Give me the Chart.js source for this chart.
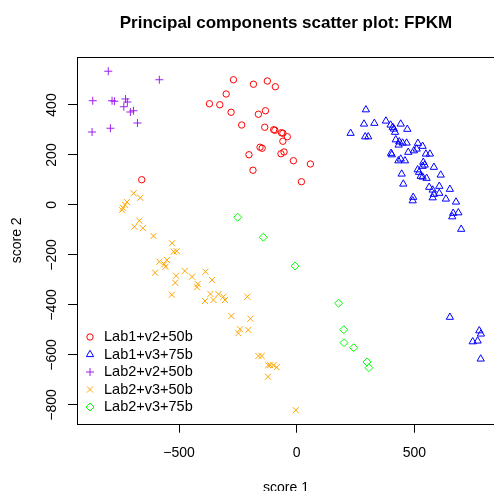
<!DOCTYPE html>
<html>
<head>
<meta charset="utf-8">
<script src="https://cdn.jsdelivr.net/npm/chart.js@4/dist/chart.umd.min.js"></script>
<style>
  html, body { margin: 0; padding: 0; background: #fff; overflow: hidden; }
  canvas { display: block; }
</style>
</head>
<body>
<canvas id="pca" width="494" height="491"></canvas>
<script>
// Dados (score 1, score 2)
const titleText = 'Principal components scatter plot: FPKM';
const xLabel = 'score 1';
const yLabel = 'score 2';
const xTicks = [-500, 0, 500];
const yTicks = [-800, -600, -400, -200, 0, 200, 400];

const groupNames = ['Lab1+v2+50b', 'Lab1+v3+75b', 'Lab2+v2+50b', 'Lab2+v3+50b', 'Lab2+v3+75b'];
const groupColors = ['#FF0000', '#0000FF', '#A020F0', '#FFA500', '#00FF00'];
const groupShapes = ['circle', 'triangle', 'cross', 'crossRot', 'rectRot'];
const groupRadius = [3.2, 4.2, 4, 4.3, 4];

const lab1v2x = [-269, -184, -125, -91, -300, -371, -327, -279, -163, -133, -234, -136, -98, -93,
  -65, -59, -40, -59, -156, -147, -203, -67, -54, -14, 58, -186, 20, -659];
const lab1v2y = [501, 483, 496, 473, 444, 405, 401, 371, 363, 377, 320, 311, 301, 299,
  289, 287, 273, 255, 231, 227, 201, 205, 212, 177, 164, 139, 93, 101];

const lab1v3x = [294, 286, 330, 229, 291, 304, 379, 399, 408, 413, 418, 442, 470, 421, 436, 433,
  450, 467, 401, 404, 432, 442, 460, 474, 498, 510, 515, 535, 549, 566, 538, 544, 535, 583,
  514, 520, 527, 535, 552, 612, 446, 453, 563, 578, 583, 606, 606, 578, 651, 634, 495, 493,
  677, 687, 665, 661, 699, 651, 776, 783, 748, 769, 782];
const lab1v3y = [381, 324, 327, 287, 273, 273, 336, 320, 311, 304, 291, 324, 303, 261, 253, 240,
  248, 248, 207, 201, 177, 184, 177, 211, 217, 224, 247, 235, 204, 204, 171, 160, 155, 151,
  141, 131, 115, 112, 107, 120, 124, 84, 71, 60, 43, 75, 47, 29, 63, 24, 31, 17,
  12, -31, -33, -47, -97, -449, -503, -516, -547, -544, -616];

const lab2v2x = [-801, -584, -867, -785, -775, -728, -720, -735, -707, -694, -677, -870, -792];
const lab2v2y = [535, 501, 417, 417, 415, 424, 412, 393, 372, 377, 328, 292, 307];

const lab2v3x = [-693, -665, -722, -730, -739, -742, -669, -690, -654, -609, -530, -523, -510,
  -584, -552, -563, -558, -602, -513, -517, -476, -445, -388, -360, -421, -424, -531, -367,
  -333, -390, -354, -312, -305, -210, -278, -197, -241, -248, -206, -163, -149, -121, -113,
  -99, -85, -122, -4];
const lab2v3y = [47, 29, 12, 1, -11, -20, -63, -87, -93, -124, -153, -187, -185,
  -227, -220, -237, -247, -271, -283, -311, -264, -287, -267, -300, -316, -329, -359, -356,
  -357, -384, -380, -367, -380, -367, -444, -455, -497, -513, -500, -604, -604, -641, -641,
  -641, -649, -687, -821];

const lab2v3b75x = [-251, -142, -7, 178, 200, 201, 242, 299, 307];
const lab2v3b75y = [-49, -129, -244, -393, -499, -551, -571, -628, -651];

const seriesX = [lab1v2x, lab1v3x, lab2v2x, lab2v3x, lab2v3b75x];
const seriesY = [lab1v2y, lab1v3y, lab2v2y, lab2v3y, lab2v3b75y];

const fontFamily = '"Liberation Sans", Arial, Helvetica, sans-serif';

// Moldura, textos e legenda desenhados por cima
const decorations = {
  id: 'decorations',
  afterDraw(chart) {
    const { ctx, chartArea: a, scales } = chart;
    ctx.save();
    ctx.strokeStyle = '#000';
    ctx.lineWidth = 1;
    ctx.strokeRect(Math.round(a.left) + 0.5, Math.round(a.top) + 0.5,
      a.right - a.left + 20, Math.round(a.bottom - a.top));

    ctx.fillStyle = '#000';
    ctx.font = 'bold 17px ' + fontFamily;
    ctx.textAlign = 'center';
    ctx.textBaseline = 'alphabetic';
    ctx.fillText(titleText, 286, 28);

    ctx.font = '14px ' + fontFamily;
    xTicks.forEach(v => {
      const label = v < 0 ? '\u2212' + Math.abs(v) : String(v);
      ctx.fillText(label, scales.x.getPixelForValue(v), 457);
    });
    yTicks.forEach(v => {
      const label = v < 0 ? '\u2212' + Math.abs(v) : String(v);
      ctx.save();
      ctx.translate(56, scales.y.getPixelForValue(v));
      ctx.rotate(-Math.PI / 2);
      ctx.fillText(label, 0, 0);
      ctx.restore();
    });

    ctx.fillText(xLabel, 286, 492);
    ctx.save();
    ctx.translate(21, (a.top + a.bottom) / 2);
    ctx.rotate(-Math.PI / 2);
    ctx.fillText(yLabel, 0, 0);
    ctx.restore();

    // legenda
    ctx.textAlign = 'left';
    ctx.textBaseline = 'middle';
    ctx.font = '14.5px ' + fontFamily;
    groupNames.forEach((name, i) => {
      const y = 337 + i * 17.5;
      ctx.strokeStyle = groupColors[i];
      ctx.fillStyle = 'rgba(0,0,0,0)';
      Chart.helpers.drawPoint(ctx, {
        pointStyle: groupShapes[i], radius: groupRadius[i], rotation: 0, borderWidth: 1
      }, 90, y);
      ctx.fillStyle = '#000';
      ctx.fillText(name, 104, y);
    });
    ctx.restore();
  }
};

function createScatter() {
  const ctx = document.getElementById('pca').getContext('2d');
  const datasets = groupNames.map((name, i) => ({
    label: name,
    data: seriesX[i].map((x, j) => ({ x: x, y: seriesY[i][j] })),
    pointStyle: groupShapes[i],
    pointRadius: groupRadius[i],
    pointBorderWidth: 1,
    borderColor: groupColors[i],
    backgroundColor: 'rgba(0,0,0,0)'
  }));

  new Chart(ctx, {
    type: 'scatter',
    data: { datasets: datasets },
    options: {
      responsive: false,
      animation: false,
      devicePixelRatio: 1,
      layout: { autoPadding: false, padding: { top: 57, left: 0, right: 0, bottom: 0 } },
      plugins: {
        legend: { display: false },
        title: { display: false },
        tooltip: { enabled: false }
      },
      scales: {
        x: {
          type: 'linear',
          min: -934,
          max: 838.5,
          afterBuildTicks: s => { s.ticks = xTicks.map(v => ({ value: v })); },
          afterFit: s => { s.height = 67.3; },
          ticks: { display: false, autoSkip: false },
          grid: { drawOnChartArea: false, drawTicks: true, tickLength: 9, color: '#000', lineWidth: 1 },
          border: { display: false }
        },
        y: {
          type: 'linear',
          min: -875,
          max: 592,
          afterBuildTicks: s => { s.ticks = yTicks.map(v => ({ value: v })); },
          afterFit: s => { s.width = 77; },
          ticks: { display: false, autoSkip: false },
          grid: { drawOnChartArea: false, drawTicks: true, tickLength: 9, color: '#000', lineWidth: 1 },
          border: { display: false }
        }
      }
    },
    plugins: [decorations]
  });
}

createScatter();
</script>
</body>
</html>
